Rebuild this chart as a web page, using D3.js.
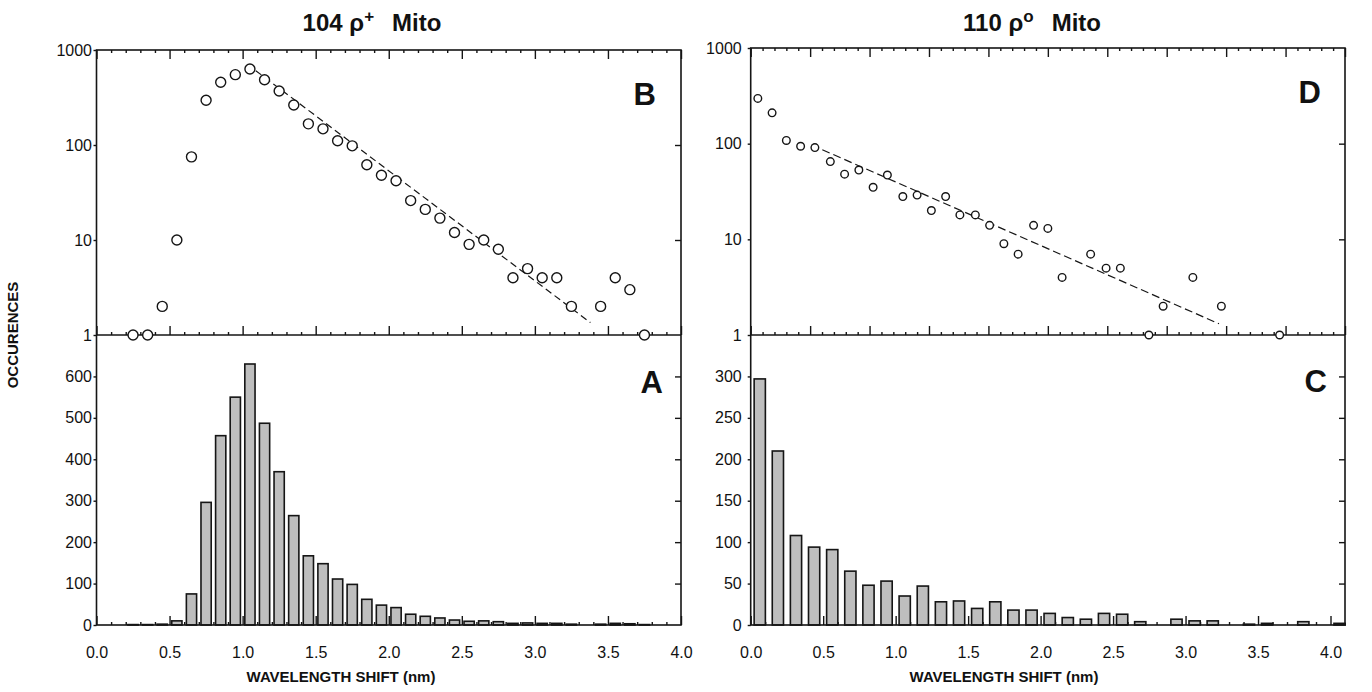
<!DOCTYPE html>
<html>
<head>
<meta charset="utf-8">
<script src="https://cdn.jsdelivr.net/npm/d3@7/dist/d3.min.js"></script>
<style>
body{margin:0;background:#fff;}
svg{display:block;background:#fff;}
text{font-family:"Liberation Sans Narrow","Liberation Sans",Arial,sans-serif;fill:#111;}
</style>
</head>
<body>
<svg id="chart" width="1372" height="692"></svg>
<script>
// ---- 104 rho+ Mito (panels A / B), bins of 0.1 nm
var binsLeft = [0.25,0.35,0.45,0.55,0.65,0.75,0.85,0.95,1.05,1.15,1.25,1.35,1.45,1.55,1.65,1.75,1.85,1.95,
	2.05,2.15,2.25,2.35,2.45,2.55,2.65,2.75,2.85,2.95,3.05,3.15,3.25,3.35,3.45,3.55,3.65,3.75];
var countsLeft = [1,1,2,10,75,296,457,550,630,487,370,264,167,148,111,98,62,48,
	42,26,21,17,12,9,10,8,4,5,4,4,2,0,2,4,3,1];
var fitLeft = [[1.09,606],[3.38,1.35]];

// ---- 110 rho0 Mito (panels C / D)
var binsRight = [0.0625,0.1875,0.3125,0.4375,0.5625,0.6875,0.8125,0.9375,1.0625,1.1875,1.3125,1.4375,1.5625,
	1.6875,1.8125,1.9375,2.0625,2.1875,2.3125,2.4375,2.5625,2.6875,2.8125,2.9375,3.0625,3.1875,3.3125,3.4375,
	3.5625,3.6875,3.8125,3.9375,4.0625,4.1875,4.3125,4.4375,4.5625];
var shiftRightLog = [0.06,0.18,0.30,0.42,0.54,0.67,0.79,0.91,1.03,1.15,1.28,1.40,1.52,1.64,1.76,1.89,2.01,
	2.13,2.25,2.38,2.50,2.62,2.74,2.86,2.99,3.11,3.23,3.35,3.47,3.60,3.72,3.84,3.96,4.08,4.21,4.33,4.45];
var countsRight = [297,210,108,94,91,65,48,53,35,47,28,29,20,28,18,18,14,9,7,14,13,4,0,7,5,5,0,1,2,0,4,0,2,0,0,0,1];
var fitRight = [[0.51,97],[3.94,1.31]];

var xTickLabels = ['0.0','0.5','1.0','1.5','2.0','2.5','3.0','3.5','4.0'];
var logTicks = [1,10,100,1000];
var barTicksLeft = [0,100,200,300,400,500,600];
var barTicksRight = [0,50,100,150,200,250,300];

var svg = d3.select('#chart');
var ink = '#151515';

function cleanAxis(g){
	g.select('.domain').remove();
	g.selectAll('line').attr('stroke',ink).attr('stroke-width',1.4);
}
function minorOf(max, step){
	var out = [];
	for (var i=0;i<=Math.round(max/step);++i){
		if (i%5!=0) out.push(i*step);
	}
	return out;
}
function majorOf(max){
	var out = [];
	for (var i=0;i<=Math.round(max/0.5);++i) out.push(i*0.5);
	return out;
}

function drawPanel(p){
	var g = svg.append('g');
	var xTop = d3.scaleLinear().domain([0,p.xTopMax]).range([p.x0,p.x1]);
	var xBot = d3.scaleLinear().domain([0,p.xBotMax]).range([p.x0,p.x1]);
	var yLog = d3.scaleLog().domain([1,1000]).range([p.mid,p.top]);
	var yLin = d3.scaleLinear().domain([0,p.yMax]).range([p.bottom,p.mid]);

	// ---- top (log) panel ticks
	g.append('g').attr('transform','translate(0,'+p.top+')')
		.call(d3.axisTop(xTop).tickValues(majorOf(p.xTopMax)).tickSize(-9).tickFormat(''))
		.call(cleanAxis);
	g.append('g').attr('transform','translate(0,'+p.top+')')
		.call(d3.axisTop(xTop).tickValues(minorOf(p.xTopMax,0.1)).tickSize(-3).tickFormat(''))
		.call(cleanAxis);
	g.append('g').attr('transform','translate(0,'+p.mid+')')
		.call(d3.axisBottom(xTop).tickValues(majorOf(p.xTopMax)).tickSize(-9).tickFormat(''))
		.call(cleanAxis);
	g.append('g').attr('transform','translate(0,'+p.mid+')')
		.call(d3.axisBottom(xTop).tickValues(minorOf(p.xTopMax,0.1)).tickSize(-3).tickFormat(''))
		.call(cleanAxis);
	g.append('g').attr('transform','translate('+p.x0+',0)')
		.call(d3.axisLeft(yLog).tickValues(logTicks).tickSize(3).tickPadding(p.labelPad).tickFormat(d3.format('d')))
		.call(cleanAxis);
	g.append('g').attr('transform','translate('+p.x1+',0)')
		.call(d3.axisRight(yLog).tickValues([10,100]).tickSize(-6).tickFormat(''))
		.call(cleanAxis);

	// ---- bottom (linear) panel ticks
	g.append('g').attr('transform','translate(0,'+p.bottom+')')
		.call(d3.axisBottom(xBot).tickValues(majorOf(4)).tickSize(-9).tickFormat(''))
		.call(cleanAxis);
	g.append('g').attr('transform','translate(0,'+p.bottom+')')
		.call(d3.axisBottom(xBot).tickValues(minorOf(4,0.1)).tickSize(-3).tickFormat(''))
		.call(cleanAxis);
	g.append('g').attr('transform','translate(0,'+p.bottom+')')
		.call(d3.axisBottom(xBot).tickValues(majorOf(4)).tickSize(0).tickPadding(22)
			.tickFormat(function(d,i){ return xTickLabels[i]; }))
		.call(cleanAxis);
	g.append('g').attr('transform','translate('+p.x0+',0)')
		.call(d3.axisLeft(yLin).tickValues(p.barTicks).tickSize(3).tickPadding(p.labelPad).tickFormat(d3.format('d')))
		.call(cleanAxis);
	g.append('g').attr('transform','translate('+p.x1+',0)')
		.call(d3.axisRight(yLin).tickValues(p.barTicks.slice(1)).tickSize(-6).tickFormat(''))
		.call(cleanAxis);

	g.selectAll('.tick text')
		.attr('font-family','"Liberation Sans Narrow","Liberation Sans",Arial,sans-serif')
		.attr('font-size',16)
		.attr('fill','#111');

	// ---- bars
	var bw = p.binWidth*p.barFrac;
	var barData = p.bins.map(function(d,i){ return {x:d, v:p.counts[i]}; })
		.filter(function(d){ return d.v>0 && d.x + bw/2 <= p.xBotMax + 0.01; });
	g.selectAll('.bar').data(barData).enter()
		.append('rect')
		.attr('class','bar')
		.attr('x',function(d){ return xBot(d.x - bw/2); })
		.attr('y',function(d){ return yLin(d.v); })
		.attr('width',function(d){ return xBot(bw) - xBot(0); })
		.attr('height',function(d){ return yLin(0) - yLin(d.v); })
		.attr('fill','#bebebe')
		.attr('stroke',ink)
		.attr('stroke-width',1.6);

	// ---- frames
	g.append('rect')
		.attr('x',p.x0).attr('y',p.top)
		.attr('width',p.x1-p.x0).attr('height',p.bottom-p.top)
		.attr('fill','none').attr('stroke',ink).attr('stroke-width',1.6);
	g.append('line')
		.attr('x1',p.x0).attr('x2',p.x1).attr('y1',p.mid).attr('y2',p.mid)
		.attr('stroke',ink).attr('stroke-width',1.6);

	// ---- fit line
	var line = d3.line()
		.x(function(d){ return xTop(d[0]); })
		.y(function(d){ return yLog(d[1]); });
	g.append('path')
		.attr('d',line(p.fit))
		.attr('fill','none')
		.attr('stroke',ink)
		.attr('stroke-width',1.2)
		.attr('stroke-dasharray',p.dash);

	// ---- points
	var ptData = p.ptX.map(function(d,i){ return {x:d, v:p.counts[i]}; })
		.filter(function(d){ return d.v>0 && d.x <= p.xTopMax; });
	g.selectAll('.pt').data(ptData).enter()
		.append('circle')
		.attr('class','pt')
		.attr('cx',function(d){ return xTop(d.x); })
		.attr('cy',function(d){ return yLog(d.v); })
		.attr('r',p.r)
		.attr('fill','#fff')
		.attr('stroke',ink)
		.attr('stroke-width',1.4);

	// ---- letters
	g.append('text')
		.attr('x',p.letterX[0]).attr('y',p.letterY[0])
		.attr('text-anchor','end')
		.attr('font-family','"Liberation Sans",Arial,sans-serif')
		.attr('font-weight','bold').attr('font-size',31)
		.text(p.letters[0]);
	g.append('text')
		.attr('x',p.letterX[1]).attr('y',p.letterY[1])
		.attr('text-anchor','end')
		.attr('font-family','"Liberation Sans",Arial,sans-serif')
		.attr('font-weight','bold').attr('font-size',31)
		.text(p.letters[1]);

	// ---- title
	var t = g.append('text')
		.attr('x',p.titleX).attr('y',31)
		.attr('text-anchor','middle')
		.attr('font-weight','bold').attr('font-size',24);
	t.append('tspan').text(p.title[0]);
	t.append('tspan').attr('dy',-9).attr('font-size',17).text(p.title[1]);
	t.append('tspan').attr('dy',9).attr('dx',18).text('Mito');

	// ---- x label
	g.append('text')
		.attr('x',p.xLabelX).attr('y',682)
		.attr('text-anchor','middle')
		.attr('font-weight','bold').attr('font-size',15)
		.text('WAVELENGTH SHIFT (nm)');
}

drawPanel({
	x0:96.5, x1:681, top:50, mid:335, bottom:625,
	xTopMax:4, xBotMax:4, yMax:700,
	bins:binsLeft, ptX:binsLeft, counts:countsLeft, fit:fitLeft,
	binWidth:0.1, barFrac:0.7, barTicks:barTicksLeft, labelPad:1.5,
	r:5, dash:'7,4',
	letters:['B','A'], letterX:[656,663], letterY:[105,393],
	title:['104 \u03c1','+'], titleX:372, xLabelX:341
});
drawPanel({
	x0:750.7, x1:1345, top:48, mid:335, bottom:625,
	xTopMax:5, xBotMax:4.1, yMax:350,
	bins:binsRight, ptX:shiftRightLog, counts:countsRight, fit:fitRight,
	binWidth:0.125, barFrac:0.62, barTicks:barTicksRight, labelPad:6,
	r:3.8, dash:'8,4',
	letters:['D','C'], letterX:[1321,1327], letterY:[103,392],
	title:['110 \u03c1','o'], titleX:1032, xLabelX:1004
});

svg.append('text')
	.attr('transform','translate(18,335) rotate(-90)')
	.attr('text-anchor','middle')
	.attr('font-weight','bold').attr('font-size',15)
	.text('OCCURENCES');
</script>
</body>
</html>
